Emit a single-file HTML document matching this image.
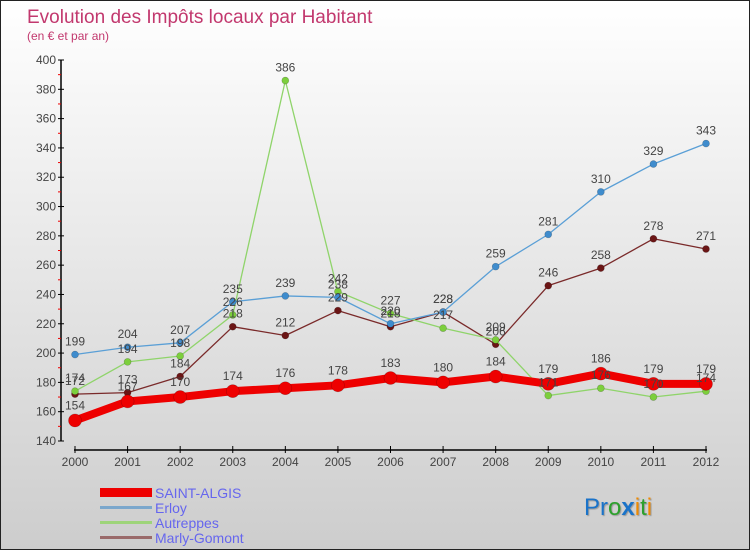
<!DOCTYPE html>
<html><head><meta charset="utf-8"><style>
html,body{margin:0;padding:0;}
body{width:750px;height:550px;overflow:hidden;font-family:"Liberation Sans",sans-serif;}
</style></head><body>
<svg width="750" height="550" viewBox="0 0 750 550" style="display:block">
<defs><linearGradient id="bg" x1="0" y1="0" x2="0" y2="1"><stop offset="0" stop-color="#ffffff"/><stop offset="1" stop-color="#cdcdcd"/></linearGradient></defs>
<rect x="0.5" y="0.5" width="749" height="549" fill="url(#bg)" stroke="#222"/>
<text x="27" y="23" font-size="19" fill="#c2386e">Evolution des Impôts locaux par Habitant</text>
<text x="27" y="40" font-size="12" fill="#c2386e">(en € et par an)</text>
<g id="axes"></g>
<g id="series"></g>
<g id="labels"></g>
<g>
<rect x="100" y="488" width="52" height="9" fill="#ee0000"/>
<text x="155" y="498" font-size="14" fill="#6666ee">SAINT-ALGIS</text>
<rect x="100" y="506" width="52" height="3" fill="#7ba7cc"/>
<text x="155" y="513" font-size="14" fill="#6666ee">Erloy</text>
<rect x="100" y="521" width="52" height="3" fill="#9ed47a"/>
<text x="155" y="528" font-size="14" fill="#6666ee">Autreppes</text>
<rect x="100" y="536" width="52" height="3" fill="#9a6a6a"/>
<text x="155" y="543" font-size="14" fill="#6666ee">Marly-Gomont</text>
</g>
<text x="584" y="515" font-size="24" style="text-shadow:1px 1px 1px #999"><tspan fill="#1a73c9">Pr</tspan><tspan fill="#2ca02c">o</tspan><tspan fill="#1a73c9" font-weight="bold">x</tspan><tspan fill="#f08a00">i</tspan><tspan fill="#2ca02c">t</tspan><tspan fill="#f08a00">i</tspan></text>
</svg>
<script>
const years=[2000,2001,2002,2003,2004,2005,2006,2007,2008,2009,2010,2011,2012];
const saintAlgis=[154,167,170,174,176,178,183,180,184,179,186,179,179];
const erloy=[199,204,207,235,239,238,220,228,259,281,310,329,343];
const autreppes=[174,194,198,226,386,242,227,217,209,171,176,170,174];
const marly=[172,173,184,218,212,229,218,228,206,246,258,278,271];
const yTicks=[140,160,180,200,220,240,260,280,300,320,340,360,380,400];
const NS='http://www.w3.org/2000/svg';
const x0=75,x1=706,yMin=140,yMax=400,yb=441,yt=60;
function X(i){return x0+(x1-x0)*i/(years.length-1);}
function Y(v){return yb-(v-yMin)*(yb-yt)/(yMax-yMin);}
function mk(t,a,p){const e=document.createElementNS(NS,t);for(const k in a)e.setAttribute(k,a[k]);p.appendChild(e);return e;}
const ax=document.getElementById('axes');
let l=mk('line',{x1:61,y1:yt,x2:61,y2:yb,stroke:'#000','stroke-width':1.5},ax);


l=mk('line',{x1:x0-1,y1:450,x2:x1+1,y2:450,stroke:'#000','stroke-width':1.5},ax);


yTicks.forEach((v,i)=>{
 mk('line',{x1:58,y1:Y(v),x2:64,y2:Y(v),stroke:'#000'},ax);
 if(i<yTicks.length-1)mk('line',{x1:58,y1:Y(v+10),x2:61,y2:Y(v+10),stroke:'#e00'},ax);
 const t=mk('text',{x:56,y:Y(v)+4,'font-size':12,'text-anchor':'end',fill:'#444'},ax);t.textContent=v;
 
 
});
years.forEach((y,i)=>{
 mk('line',{x1:X(i),y1:446,x2:X(i),y2:453,stroke:'#000'},ax);
 const t=mk('text',{x:X(i),y:466,'font-size':12,'text-anchor':'middle',fill:'#444'},ax);t.textContent=y;
 
 
});
const sg=document.getElementById('series'),lg=document.getElementById('labels');
function draw(vals,name,col,dot,w,r){
 const p=mk('polyline',{points:vals.map((v,i)=>X(i)+','+Y(v)).join(' '),fill:'none',stroke:col,'stroke-width':w,'stroke-linejoin':'round'},sg);
 
 
 vals.forEach((v,i)=>{
  const c=mk('circle',{cx:X(i),cy:Y(v),r:r,fill:dot,stroke:'rgba(0,0,0,0.25)','stroke-width':0.6},sg);
  
  
  const t=mk('text',{x:X(i),y:Y(v)-9-(r>4?2:0),'font-size':12,'text-anchor':'middle',fill:'#444'},lg);t.textContent=v;
  
  
 });
}
draw(marly,'marly-gomont','#7a2a2a','#6b1515',1.3,3.5);
draw(autreppes,'autreppes','#8fd46a','#7ccf3c',1.3,3.5);
draw(erloy,'erloy','#5a9fd6','#3f8ccd',1.3,3.5);
draw(saintAlgis,'saint-algis','#ee0000','#ee0000',8,6.5);
</script>
</body></html>
